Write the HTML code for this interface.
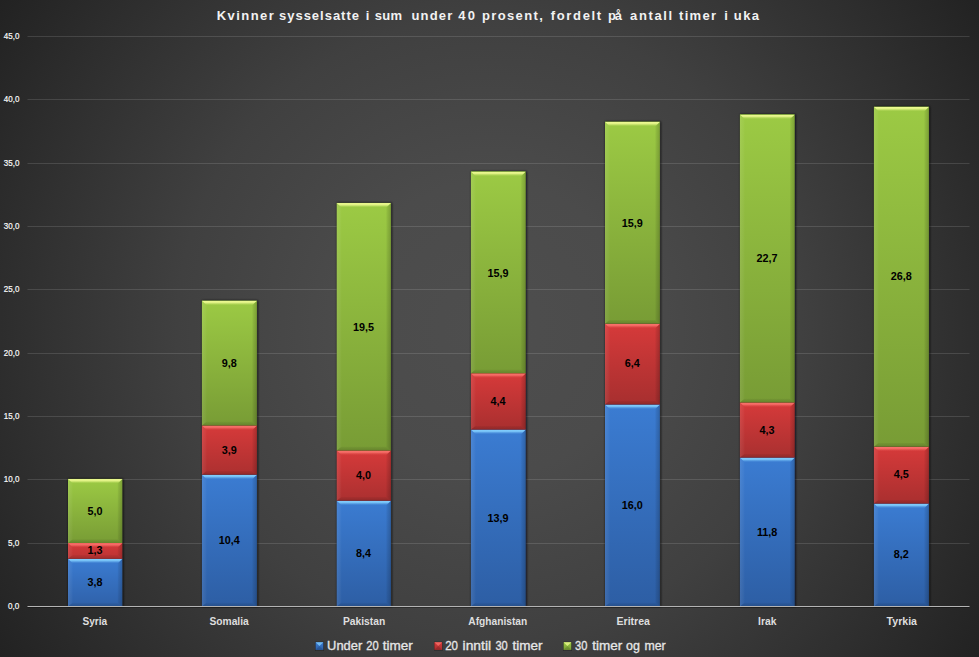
<!DOCTYPE html>
<html lang="no"><head><meta charset="utf-8">
<title>Kvinner sysselsatte i sum under 40 prosent</title>
<style>
html,body{margin:0;padding:0;background:#222;}
body{width:979px;height:657px;overflow:hidden;}
svg{display:block;}
text{font-family:"Liberation Sans",sans-serif;}
.t{font-weight:bold;font-size:13px;fill:#f2f2f2;}
.y{font-size:8.5px;fill:#fafafa;stroke:#fafafa;stroke-width:0.2px;}
.d{font-weight:bold;font-size:10.8px;fill:#000;text-anchor:middle;}
.c{font-weight:bold;font-size:10.7px;fill:#dedede;}
.l{font-size:12.2px;fill:#e6e6e6;stroke:#e6e6e6;stroke-width:0.3px;}
</style></head><body>
<svg width="979" height="657" viewBox="0 0 979 657">
<defs>
<radialGradient id="bg" gradientUnits="userSpaceOnUse" cx="489.5" cy="328.5" r="589.5">
<stop offset="0" stop-color="#4e4e4e"/>
<stop offset="0.25" stop-color="#4b4b4b"/>
<stop offset="0.53" stop-color="#404040"/>
<stop offset="0.83" stop-color="#2d2d2d"/>
<stop offset="1" stop-color="#222222"/>
</radialGradient>
<filter id="sh2" x="-30%" y="-30%" width="160%" height="160%"><feGaussianBlur stdDeviation="0.7"/></filter>
<filter id="sh" x="-20%" y="-5%" width="140%" height="110%"><feGaussianBlur stdDeviation="1.3"/></filter>
<linearGradient id="mb" x1="0" y1="0" x2="0" y2="1"><stop offset="0" stop-color="#3b7cd2"/><stop offset="1" stop-color="#2d5ea4"/></linearGradient>
<linearGradient id="hb" x1="0" y1="0" x2="0" y2="1"><stop offset="0" stop-color="#4488de"/><stop offset="0.14" stop-color="#80ccfc"/><stop offset="0.42" stop-color="#80ccfc" stop-opacity="0.85"/><stop offset="0.75" stop-color="#80ccfc" stop-opacity="0.22"/><stop offset="1" stop-color="#80ccfc" stop-opacity="0"/></linearGradient>
<linearGradient id="mr" x1="0" y1="0" x2="0" y2="1"><stop offset="0" stop-color="#d63a3a"/><stop offset="1" stop-color="#a72f2f"/></linearGradient>
<linearGradient id="hr" x1="0" y1="0" x2="0" y2="1"><stop offset="0" stop-color="#e04444"/><stop offset="0.14" stop-color="#f8706a"/><stop offset="0.42" stop-color="#f8706a" stop-opacity="0.85"/><stop offset="0.75" stop-color="#f8706a" stop-opacity="0.22"/><stop offset="1" stop-color="#f8706a" stop-opacity="0"/></linearGradient>
<linearGradient id="mg" x1="0" y1="0" x2="0" y2="1"><stop offset="0" stop-color="#9cca44"/><stop offset="1" stop-color="#789c35"/></linearGradient>
<linearGradient id="hg" x1="0" y1="0" x2="0" y2="1"><stop offset="0" stop-color="#a6d34c"/><stop offset="0.14" stop-color="#ecf990"/><stop offset="0.42" stop-color="#ecf990" stop-opacity="0.85"/><stop offset="0.75" stop-color="#ecf990" stop-opacity="0.22"/><stop offset="1" stop-color="#ecf990" stop-opacity="0"/></linearGradient>
<linearGradient id="bl" x1="0" y1="0" x2="1" y2="0"><stop offset="0" stop-color="#fff" stop-opacity="0.09"/><stop offset="1" stop-color="#fff" stop-opacity="0.02"/></linearGradient>
<linearGradient id="br" x1="1" y1="0" x2="0" y2="0"><stop offset="0" stop-color="#000" stop-opacity="0.20"/><stop offset="1" stop-color="#000" stop-opacity="0.04"/></linearGradient>
<linearGradient id="bb" x1="0" y1="1" x2="0" y2="0"><stop offset="0" stop-color="#000" stop-opacity="0.16"/><stop offset="1" stop-color="#000" stop-opacity="0.04"/></linearGradient>
</defs>
<rect width="979" height="657" fill="url(#bg)"/>
<rect x="27.5" y="543.0" width="942" height="1" fill="#fff" fill-opacity="0.125"/>
<rect x="27.5" y="479.0" width="942" height="1" fill="#fff" fill-opacity="0.125"/>
<rect x="27.5" y="416.0" width="942" height="1" fill="#fff" fill-opacity="0.125"/>
<rect x="27.5" y="353.0" width="942" height="1" fill="#fff" fill-opacity="0.125"/>
<rect x="27.5" y="289.0" width="942" height="1" fill="#fff" fill-opacity="0.125"/>
<rect x="27.5" y="226.0" width="942" height="1" fill="#fff" fill-opacity="0.125"/>
<rect x="27.5" y="163.0" width="942" height="1" fill="#fff" fill-opacity="0.125"/>
<rect x="27.5" y="99.0" width="942" height="1" fill="#fff" fill-opacity="0.125"/>
<rect x="27.5" y="36.0" width="942" height="1" fill="#fff" fill-opacity="0.125"/>
<rect x="68.2" y="478.6" width="55.2" height="127.9" fill="#0a0a12" fill-opacity="0.75" filter="url(#sh)"/>
<defs><linearGradient id="sb0" x1="0" y1="0" x2="0" y2="1"><stop offset="0" stop-color="#3b7cd2"/><stop offset="1" stop-color="#2f61a9"/></linearGradient></defs>
<rect x="68.0" y="558.8" width="54.3" height="47.7" fill="url(#sb0)"/>
<polygon points="68.0,558.8 72.6,563.4 72.6,602.8 68.0,606.5" fill="url(#bl)"/>
<polygon points="122.3,558.8 117.7,563.4 117.7,602.8 122.3,606.5" fill="url(#br)"/>
<polygon points="68.0,606.5 72.6,602.8 117.7,602.8 122.3,606.5" fill="url(#bb)"/>
<polygon points="68.0,558.8 122.3,558.8 117.7,563.4 72.6,563.4" fill="url(#hb)"/>
<defs><linearGradient id="sr0" x1="0" y1="0" x2="0" y2="1"><stop offset="0" stop-color="#d63a3a"/><stop offset="1" stop-color="#ba3333"/></linearGradient></defs>
<rect x="68.0" y="543.0" width="54.3" height="15.8" fill="url(#sr0)"/>
<polygon points="68.0,543.0 72.6,547.6 72.6,555.1 68.0,558.8" fill="url(#bl)"/>
<polygon points="122.3,543.0 117.7,547.6 117.7,555.1 122.3,558.8" fill="url(#br)"/>
<polygon points="68.0,558.8 72.6,555.1 117.7,555.1 122.3,558.8" fill="url(#bb)"/>
<polygon points="68.0,543.0 122.3,543.0 117.7,547.6 72.6,547.6" fill="url(#hr)"/>
<defs><linearGradient id="sg0" x1="0" y1="0" x2="0" y2="1"><stop offset="0" stop-color="#9cca44"/><stop offset="1" stop-color="#789c35"/></linearGradient></defs>
<rect x="68.0" y="478.9" width="54.3" height="64.1" fill="url(#sg0)"/>
<polygon points="68.0,478.9 72.6,483.5 72.6,539.3 68.0,543.0" fill="url(#bl)"/>
<polygon points="122.3,478.9 117.7,483.5 117.7,539.3 122.3,543.0" fill="url(#br)"/>
<polygon points="68.0,543.0 72.6,539.3 117.7,539.3 122.3,543.0" fill="url(#bb)"/>
<polygon points="68.0,478.9 122.3,478.9 117.7,483.5 72.6,483.5" fill="url(#hg)"/>
<text class="d" x="95.0" y="585.8">3,8</text>
<text class="d" x="95.0" y="553.8">1,3</text>
<text class="d" x="95.0" y="514.8">5,0</text>
<rect x="202.1" y="300.4" width="55.9" height="306.1" fill="#0a0a12" fill-opacity="0.75" filter="url(#sh)"/>
<defs><linearGradient id="sb1" x1="0" y1="0" x2="0" y2="1"><stop offset="0" stop-color="#3b7cd2"/><stop offset="1" stop-color="#2d5ea4"/></linearGradient></defs>
<rect x="201.9" y="474.7" width="55.0" height="131.8" fill="url(#sb1)"/>
<polygon points="201.9,474.7 206.5,479.3 206.5,602.8 201.9,606.5" fill="url(#bl)"/>
<polygon points="256.9,474.7 252.3,479.3 252.3,602.8 256.9,606.5" fill="url(#br)"/>
<polygon points="201.9,606.5 206.5,602.8 252.3,602.8 256.9,606.5" fill="url(#bb)"/>
<polygon points="201.9,474.7 256.9,474.7 252.3,479.3 206.5,479.3" fill="url(#hb)"/>
<defs><linearGradient id="sr1" x1="0" y1="0" x2="0" y2="1"><stop offset="0" stop-color="#d63a3a"/><stop offset="1" stop-color="#ac3030"/></linearGradient></defs>
<rect x="201.9" y="425.5" width="55.0" height="49.2" fill="url(#sr1)"/>
<polygon points="201.9,425.5 206.5,430.1 206.5,471.0 201.9,474.7" fill="url(#bl)"/>
<polygon points="256.9,425.5 252.3,430.1 252.3,471.0 256.9,474.7" fill="url(#br)"/>
<polygon points="201.9,474.7 206.5,471.0 252.3,471.0 256.9,474.7" fill="url(#bb)"/>
<polygon points="201.9,425.5 256.9,425.5 252.3,430.1 206.5,430.1" fill="url(#hr)"/>
<defs><linearGradient id="sg1" x1="0" y1="0" x2="0" y2="1"><stop offset="0" stop-color="#9cca44"/><stop offset="1" stop-color="#789c35"/></linearGradient></defs>
<rect x="201.9" y="300.7" width="55.0" height="124.8" fill="url(#sg1)"/>
<polygon points="201.9,300.7 206.5,305.3 206.5,421.8 201.9,425.5" fill="url(#bl)"/>
<polygon points="256.9,300.7 252.3,305.3 252.3,421.8 256.9,425.5" fill="url(#br)"/>
<polygon points="201.9,425.5 206.5,421.8 252.3,421.8 256.9,425.5" fill="url(#bb)"/>
<polygon points="201.9,300.7 256.9,300.7 252.3,305.3 206.5,305.3" fill="url(#hg)"/>
<text class="d" x="229.2" y="543.8">10,4</text>
<text class="d" x="229.2" y="453.8">3,9</text>
<text class="d" x="229.2" y="366.8">9,8</text>
<rect x="336.9" y="202.6" width="55.1" height="403.9" fill="#0a0a12" fill-opacity="0.75" filter="url(#sh)"/>
<defs><linearGradient id="sb2" x1="0" y1="0" x2="0" y2="1"><stop offset="0" stop-color="#3b7cd2"/><stop offset="1" stop-color="#2d5ea4"/></linearGradient></defs>
<rect x="336.7" y="500.7" width="54.2" height="105.8" fill="url(#sb2)"/>
<polygon points="336.7,500.7 341.3,505.3 341.3,602.8 336.7,606.5" fill="url(#bl)"/>
<polygon points="390.9,500.7 386.3,505.3 386.3,602.8 390.9,606.5" fill="url(#br)"/>
<polygon points="336.7,606.5 341.3,602.8 386.3,602.8 390.9,606.5" fill="url(#bb)"/>
<polygon points="336.7,500.7 390.9,500.7 386.3,505.3 341.3,505.3" fill="url(#hb)"/>
<defs><linearGradient id="sr2" x1="0" y1="0" x2="0" y2="1"><stop offset="0" stop-color="#d63a3a"/><stop offset="1" stop-color="#ab3030"/></linearGradient></defs>
<rect x="336.7" y="450.5" width="54.2" height="50.2" fill="url(#sr2)"/>
<polygon points="336.7,450.5 341.3,455.1 341.3,497.0 336.7,500.7" fill="url(#bl)"/>
<polygon points="390.9,450.5 386.3,455.1 386.3,497.0 390.9,500.7" fill="url(#br)"/>
<polygon points="336.7,500.7 341.3,497.0 386.3,497.0 390.9,500.7" fill="url(#bb)"/>
<polygon points="336.7,450.5 390.9,450.5 386.3,455.1 341.3,455.1" fill="url(#hr)"/>
<defs><linearGradient id="sg2" x1="0" y1="0" x2="0" y2="1"><stop offset="0" stop-color="#9cca44"/><stop offset="1" stop-color="#789c35"/></linearGradient></defs>
<rect x="336.7" y="202.9" width="54.2" height="247.6" fill="url(#sg2)"/>
<polygon points="336.7,202.9 341.3,207.5 341.3,446.8 336.7,450.5" fill="url(#bl)"/>
<polygon points="390.9,202.9 386.3,207.5 386.3,446.8 390.9,450.5" fill="url(#br)"/>
<polygon points="336.7,450.5 341.3,446.8 386.3,446.8 390.9,450.5" fill="url(#bb)"/>
<polygon points="336.7,202.9 390.9,202.9 386.3,207.5 341.3,207.5" fill="url(#hg)"/>
<text class="d" x="363.6" y="556.8">8,4</text>
<text class="d" x="363.6" y="478.8">4,0</text>
<text class="d" x="363.6" y="330.8">19,5</text>
<rect x="471.1" y="171.3" width="55.7" height="435.2" fill="#0a0a12" fill-opacity="0.75" filter="url(#sh)"/>
<defs><linearGradient id="sb3" x1="0" y1="0" x2="0" y2="1"><stop offset="0" stop-color="#3b7cd2"/><stop offset="1" stop-color="#2d5ea4"/></linearGradient></defs>
<rect x="470.9" y="429.6" width="54.8" height="176.9" fill="url(#sb3)"/>
<polygon points="470.9,429.6 475.5,434.2 475.5,602.8 470.9,606.5" fill="url(#bl)"/>
<polygon points="525.7,429.6 521.1,434.2 521.1,602.8 525.7,606.5" fill="url(#br)"/>
<polygon points="470.9,606.5 475.5,602.8 521.1,602.8 525.7,606.5" fill="url(#bb)"/>
<polygon points="470.9,429.6 525.7,429.6 521.1,434.2 475.5,434.2" fill="url(#hb)"/>
<defs><linearGradient id="sr3" x1="0" y1="0" x2="0" y2="1"><stop offset="0" stop-color="#d63a3a"/><stop offset="1" stop-color="#a92f2f"/></linearGradient></defs>
<rect x="470.9" y="373.3" width="54.8" height="56.3" fill="url(#sr3)"/>
<polygon points="470.9,373.3 475.5,377.9 475.5,425.9 470.9,429.6" fill="url(#bl)"/>
<polygon points="525.7,373.3 521.1,377.9 521.1,425.9 525.7,429.6" fill="url(#br)"/>
<polygon points="470.9,429.6 475.5,425.9 521.1,425.9 525.7,429.6" fill="url(#bb)"/>
<polygon points="470.9,373.3 525.7,373.3 521.1,377.9 475.5,377.9" fill="url(#hr)"/>
<defs><linearGradient id="sg3" x1="0" y1="0" x2="0" y2="1"><stop offset="0" stop-color="#9cca44"/><stop offset="1" stop-color="#789c35"/></linearGradient></defs>
<rect x="470.9" y="171.6" width="54.8" height="201.7" fill="url(#sg3)"/>
<polygon points="470.9,171.6 475.5,176.2 475.5,369.6 470.9,373.3" fill="url(#bl)"/>
<polygon points="525.7,171.6 521.1,176.2 521.1,369.6 525.7,373.3" fill="url(#br)"/>
<polygon points="470.9,373.3 475.5,369.6 521.1,369.6 525.7,373.3" fill="url(#bb)"/>
<polygon points="470.9,171.6 525.7,171.6 521.1,176.2 475.5,176.2" fill="url(#hg)"/>
<text class="d" x="498.1" y="521.8">13,9</text>
<text class="d" x="498.1" y="404.8">4,4</text>
<text class="d" x="498.1" y="276.8">15,9</text>
<rect x="605.2" y="121.5" width="55.8" height="485.0" fill="#0a0a12" fill-opacity="0.75" filter="url(#sh)"/>
<defs><linearGradient id="sb4" x1="0" y1="0" x2="0" y2="1"><stop offset="0" stop-color="#3b7cd2"/><stop offset="1" stop-color="#2d5ea4"/></linearGradient></defs>
<rect x="605.0" y="404.5" width="54.9" height="202.0" fill="url(#sb4)"/>
<polygon points="605.0,404.5 609.6,409.1 609.6,602.8 605.0,606.5" fill="url(#bl)"/>
<polygon points="659.9,404.5 655.3,409.1 655.3,602.8 659.9,606.5" fill="url(#br)"/>
<polygon points="605.0,606.5 609.6,602.8 655.3,602.8 659.9,606.5" fill="url(#bb)"/>
<polygon points="605.0,404.5 659.9,404.5 655.3,409.1 609.6,409.1" fill="url(#hb)"/>
<defs><linearGradient id="sr4" x1="0" y1="0" x2="0" y2="1"><stop offset="0" stop-color="#d63a3a"/><stop offset="1" stop-color="#a72f2f"/></linearGradient></defs>
<rect x="605.0" y="323.7" width="54.9" height="80.8" fill="url(#sr4)"/>
<polygon points="605.0,323.7 609.6,328.3 609.6,400.8 605.0,404.5" fill="url(#bl)"/>
<polygon points="659.9,323.7 655.3,328.3 655.3,400.8 659.9,404.5" fill="url(#br)"/>
<polygon points="605.0,404.5 609.6,400.8 655.3,400.8 659.9,404.5" fill="url(#bb)"/>
<polygon points="605.0,323.7 659.9,323.7 655.3,328.3 609.6,328.3" fill="url(#hr)"/>
<defs><linearGradient id="sg4" x1="0" y1="0" x2="0" y2="1"><stop offset="0" stop-color="#9cca44"/><stop offset="1" stop-color="#789c35"/></linearGradient></defs>
<rect x="605.0" y="121.8" width="54.9" height="201.9" fill="url(#sg4)"/>
<polygon points="605.0,121.8 609.6,126.4 609.6,320.0 605.0,323.7" fill="url(#bl)"/>
<polygon points="659.9,121.8 655.3,126.4 655.3,320.0 659.9,323.7" fill="url(#br)"/>
<polygon points="605.0,323.7 609.6,320.0 655.3,320.0 659.9,323.7" fill="url(#bb)"/>
<polygon points="605.0,121.8 659.9,121.8 655.3,126.4 609.6,126.4" fill="url(#hg)"/>
<text class="d" x="632.2" y="508.8">16,0</text>
<text class="d" x="632.2" y="366.8">6,4</text>
<text class="d" x="632.2" y="226.8">15,9</text>
<rect x="740.1" y="114.2" width="55.7" height="492.3" fill="#0a0a12" fill-opacity="0.75" filter="url(#sh)"/>
<defs><linearGradient id="sb5" x1="0" y1="0" x2="0" y2="1"><stop offset="0" stop-color="#3b7cd2"/><stop offset="1" stop-color="#2d5ea4"/></linearGradient></defs>
<rect x="739.9" y="457.6" width="54.8" height="148.9" fill="url(#sb5)"/>
<polygon points="739.9,457.6 744.5,462.2 744.5,602.8 739.9,606.5" fill="url(#bl)"/>
<polygon points="794.7,457.6 790.1,462.2 790.1,602.8 794.7,606.5" fill="url(#br)"/>
<polygon points="739.9,606.5 744.5,602.8 790.1,602.8 794.7,606.5" fill="url(#bb)"/>
<polygon points="739.9,457.6 794.7,457.6 790.1,462.2 744.5,462.2" fill="url(#hb)"/>
<defs><linearGradient id="sr5" x1="0" y1="0" x2="0" y2="1"><stop offset="0" stop-color="#d63a3a"/><stop offset="1" stop-color="#a93030"/></linearGradient></defs>
<rect x="739.9" y="402.5" width="54.8" height="55.1" fill="url(#sr5)"/>
<polygon points="739.9,402.5 744.5,407.1 744.5,453.9 739.9,457.6" fill="url(#bl)"/>
<polygon points="794.7,402.5 790.1,407.1 790.1,453.9 794.7,457.6" fill="url(#br)"/>
<polygon points="739.9,457.6 744.5,453.9 790.1,453.9 794.7,457.6" fill="url(#bb)"/>
<polygon points="739.9,402.5 794.7,402.5 790.1,407.1 744.5,407.1" fill="url(#hr)"/>
<defs><linearGradient id="sg5" x1="0" y1="0" x2="0" y2="1"><stop offset="0" stop-color="#9cca44"/><stop offset="1" stop-color="#789c35"/></linearGradient></defs>
<rect x="739.9" y="114.5" width="54.8" height="288.0" fill="url(#sg5)"/>
<polygon points="739.9,114.5 744.5,119.1 744.5,398.8 739.9,402.5" fill="url(#bl)"/>
<polygon points="794.7,114.5 790.1,119.1 790.1,398.8 794.7,402.5" fill="url(#br)"/>
<polygon points="739.9,402.5 744.5,398.8 790.1,398.8 794.7,402.5" fill="url(#bb)"/>
<polygon points="739.9,114.5 794.7,114.5 790.1,119.1 744.5,119.1" fill="url(#hg)"/>
<text class="d" x="767.1" y="535.8">11,8</text>
<text class="d" x="767.1" y="433.8">4,3</text>
<text class="d" x="767.1" y="261.8">22,7</text>
<rect x="874.1" y="106.5" width="55.9" height="500.0" fill="#0a0a12" fill-opacity="0.75" filter="url(#sh)"/>
<defs><linearGradient id="sb6" x1="0" y1="0" x2="0" y2="1"><stop offset="0" stop-color="#3b7cd2"/><stop offset="1" stop-color="#2d5ea4"/></linearGradient></defs>
<rect x="873.9" y="503.6" width="55.0" height="102.9" fill="url(#sb6)"/>
<polygon points="873.9,503.6 878.5,508.2 878.5,602.8 873.9,606.5" fill="url(#bl)"/>
<polygon points="928.9,503.6 924.3,508.2 924.3,602.8 928.9,606.5" fill="url(#br)"/>
<polygon points="873.9,606.5 878.5,602.8 924.3,602.8 928.9,606.5" fill="url(#bb)"/>
<polygon points="873.9,503.6 928.9,503.6 924.3,508.2 878.5,508.2" fill="url(#hb)"/>
<defs><linearGradient id="sr6" x1="0" y1="0" x2="0" y2="1"><stop offset="0" stop-color="#d63a3a"/><stop offset="1" stop-color="#a92f2f"/></linearGradient></defs>
<rect x="873.9" y="446.7" width="55.0" height="56.9" fill="url(#sr6)"/>
<polygon points="873.9,446.7 878.5,451.3 878.5,499.9 873.9,503.6" fill="url(#bl)"/>
<polygon points="928.9,446.7 924.3,451.3 924.3,499.9 928.9,503.6" fill="url(#br)"/>
<polygon points="873.9,503.6 878.5,499.9 924.3,499.9 928.9,503.6" fill="url(#bb)"/>
<polygon points="873.9,446.7 928.9,446.7 924.3,451.3 878.5,451.3" fill="url(#hr)"/>
<defs><linearGradient id="sg6" x1="0" y1="0" x2="0" y2="1"><stop offset="0" stop-color="#9cca44"/><stop offset="1" stop-color="#789c35"/></linearGradient></defs>
<rect x="873.9" y="106.8" width="55.0" height="339.9" fill="url(#sg6)"/>
<polygon points="873.9,106.8 878.5,111.4 878.5,443.0 873.9,446.7" fill="url(#bl)"/>
<polygon points="928.9,106.8 924.3,111.4 924.3,443.0 928.9,446.7" fill="url(#br)"/>
<polygon points="873.9,446.7 878.5,443.0 924.3,443.0 928.9,446.7" fill="url(#bb)"/>
<polygon points="873.9,106.8 928.9,106.8 924.3,111.4 878.5,111.4" fill="url(#hg)"/>
<text class="d" x="901.2" y="557.8">8,2</text>
<text class="d" x="901.2" y="477.8">4,5</text>
<text class="d" x="901.2" y="279.8">26,8</text>
<rect x="27.5" y="607" width="942" height="1" fill="#000" fill-opacity="0.3"/>
<rect x="27.5" y="606" width="942" height="1" fill="#b4b4b4"/>
<text class="y" x="8.1" y="609.4" textLength="11.3" lengthAdjust="spacingAndGlyphs">0,0</text>
<text class="y" x="8.1" y="546.4" textLength="11.3" lengthAdjust="spacingAndGlyphs">5,0</text>
<text class="y" x="3.8" y="482.4" textLength="15.6" lengthAdjust="spacingAndGlyphs">10,0</text>
<text class="y" x="3.8" y="419.4" textLength="15.6" lengthAdjust="spacingAndGlyphs">15,0</text>
<text class="y" x="3.8" y="356.4" textLength="15.6" lengthAdjust="spacingAndGlyphs">20,0</text>
<text class="y" x="3.8" y="292.4" textLength="15.6" lengthAdjust="spacingAndGlyphs">25,0</text>
<text class="y" x="3.8" y="229.4" textLength="15.6" lengthAdjust="spacingAndGlyphs">30,0</text>
<text class="y" x="3.8" y="166.4" textLength="15.6" lengthAdjust="spacingAndGlyphs">35,0</text>
<text class="y" x="3.8" y="102.4" textLength="15.6" lengthAdjust="spacingAndGlyphs">40,0</text>
<text class="y" x="3.8" y="39.4" textLength="15.6" lengthAdjust="spacingAndGlyphs">45,0</text>
<text class="c" x="82.5" y="624.9" textLength="24.7" lengthAdjust="spacingAndGlyphs">Syria</text>
<text class="c" x="209.4" y="624.9" textLength="39.4" lengthAdjust="spacingAndGlyphs">Somalia</text>
<text class="c" x="342.9" y="624.9" textLength="42.3" lengthAdjust="spacingAndGlyphs">Pakistan</text>
<text class="c" x="468.3" y="624.9" textLength="58.9" lengthAdjust="spacingAndGlyphs">Afghanistan</text>
<text class="c" x="616.5" y="624.9" textLength="33.5" lengthAdjust="spacingAndGlyphs">Eritrea</text>
<text class="c" x="758.1" y="624.9" textLength="18.4" lengthAdjust="spacingAndGlyphs">Irak</text>
<text class="c" x="886.6" y="624.9" textLength="30.4" lengthAdjust="spacingAndGlyphs">Tyrkia</text>
<g>
<text class="t" x="216.8" y="19.8" textLength="56.9" lengthAdjust="spacing">Kvinner</text>
<text class="t" x="279.0" y="19.8" textLength="80.0" lengthAdjust="spacing">sysselsatte</text>
<text class="t" x="365.8" y="19.8" textLength="2.7" lengthAdjust="spacing">i</text>
<text class="t" x="374.7" y="19.8" textLength="27.3" lengthAdjust="spacing">sum</text>
<text class="t" x="411.5" y="19.8" textLength="40.8" lengthAdjust="spacing">under</text>
<text class="t" x="458.3" y="19.8" textLength="16.8" lengthAdjust="spacing">40</text>
<text class="t" x="482.0" y="19.8" textLength="60.8" lengthAdjust="spacing">prosent,</text>
<text class="t" x="550.8" y="19.8" textLength="50.3" lengthAdjust="spacing">fordelt</text>
<text class="t" x="607.9" y="19.8" textLength="14.2" lengthAdjust="spacing">på</text>
<text class="t" x="630.1" y="19.8" textLength="42.1" lengthAdjust="spacing">antall</text>
<text class="t" x="679.0" y="19.8" textLength="37.0" lengthAdjust="spacing">timer</text>
<text class="t" x="724.3" y="19.8" textLength="2.7" lengthAdjust="spacing">i</text>
<text class="t" x="733.8" y="19.8" textLength="25.2" lengthAdjust="spacing">uka</text>
</g>
<rect x="315.2" y="641.8" width="8.6" height="8.8" fill="#101014" fill-opacity="0.6" filter="url(#sh2)"/>
<rect x="315.6" y="642.2" width="7.7" height="7.8" fill="url(#mb)"/>
<polygon points="315.6,642.2 323.3,642.2 319.4,646.1" fill="#80ccfc" fill-opacity="0.8"/>
<polygon points="315.6,650 323.3,650 319.4,646.1" fill="#000" fill-opacity="0.12"/>
<text class="l" x="327.1" y="649.9" textLength="35.1" lengthAdjust="spacingAndGlyphs">Under</text>
<text class="l" x="366.2" y="649.9" textLength="12.4" lengthAdjust="spacingAndGlyphs">20</text>
<text class="l" x="382.8" y="649.9" textLength="30.0" lengthAdjust="spacingAndGlyphs">timer</text>
<rect x="434.0" y="641.8" width="8.6" height="8.8" fill="#101014" fill-opacity="0.6" filter="url(#sh2)"/>
<rect x="434.4" y="642.2" width="7.7" height="7.8" fill="url(#mr)"/>
<polygon points="434.4,642.2 442.1,642.2 438.2,646.1" fill="#f8706a" fill-opacity="0.8"/>
<polygon points="434.4,650 442.1,650 438.2,646.1" fill="#000" fill-opacity="0.12"/>
<text class="l" x="445.2" y="649.9" textLength="12.8" lengthAdjust="spacingAndGlyphs">20</text>
<text class="l" x="462.6" y="649.9" textLength="28.5" lengthAdjust="spacingAndGlyphs">inntil</text>
<text class="l" x="495.4" y="649.9" textLength="12.3" lengthAdjust="spacingAndGlyphs">30</text>
<text class="l" x="512.6" y="649.9" textLength="30.0" lengthAdjust="spacingAndGlyphs">timer</text>
<rect x="563.2" y="641.8" width="8.6" height="8.8" fill="#101014" fill-opacity="0.6" filter="url(#sh2)"/>
<rect x="563.6" y="642.2" width="7.7" height="7.8" fill="url(#mg)"/>
<polygon points="563.6,642.2 571.3,642.2 567.4,646.1" fill="#ecf990" fill-opacity="0.8"/>
<polygon points="563.6,650 571.3,650 567.4,646.1" fill="#000" fill-opacity="0.12"/>
<text class="l" x="575.0" y="649.9" textLength="12.3" lengthAdjust="spacingAndGlyphs">30</text>
<text class="l" x="592.2" y="649.9" textLength="30.0" lengthAdjust="spacingAndGlyphs">timer</text>
<text class="l" x="626.1" y="649.9" textLength="13.9" lengthAdjust="spacingAndGlyphs">og</text>
<text class="l" x="644.5" y="649.9" textLength="21.2" lengthAdjust="spacingAndGlyphs">mer</text>
</svg>
</body></html>
